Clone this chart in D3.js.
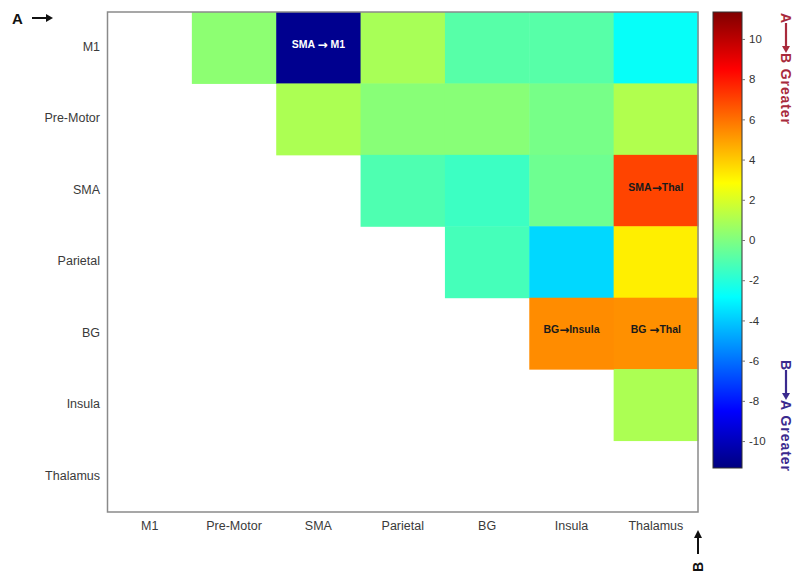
<!DOCTYPE html>
<html>
<head>
<meta charset="utf-8">
<script src="https://cdn.jsdelivr.net/npm/d3@7"></script>
<style>
  html, body { margin: 0; padding: 0; background: #fff; }
  svg { display: block; font-family: "Liberation Sans", Arial, Helvetica, sans-serif; }
</style>
</head>
<body>
<svg id="chart" width="804" height="578"></svg>
<script>
// Brain regions, used for both rows (A) and columns (B)
const regions = ["M1", "Pre-Motor", "SMA", "Parietal", "BG", "Insula", "Thalamus"];

// T-values for A -> B comparisons, one array per row region (null = not tested)
const rowM1       = [null, 0.3, -11.0, 0.9, -0.9, -0.9, -2.7];
const rowPreMotor = [null, null, 1.0, 0.2, 0.2, -0.2, 1.1];
const rowSMA      = [null, null, null, -1.1, -1.5, -0.4, 7.0];
const rowParietal = [null, null, null, null, -1.3, -3.7, 3.2];
const rowBG       = [null, null, null, null, null, 5.4, 5.3];
const rowInsula   = [null, null, null, null, null, null, 1.0];
const rowThalamus = [null, null, null, null, null, null, null];
const tValues = [rowM1, rowPreMotor, rowSMA, rowParietal, rowBG, rowInsula, rowThalamus];

// Significant connections that carry a label (source, arrow, target)
const sigRows    = ["M1", "SMA", "BG", "BG"];
const sigCols    = ["SMA", "Thalamus", "Insula", "Thalamus"];
const sigSources = ["SMA ", "SMA", "BG", "BG "];
const sigTargets = [" M1", "Thal", "Insula", "Thal"];

// Colour bar
const colorDomain = [-11.34, 11.34];
const colorTicks = [-10, -8, -6, -4, -2, 0, 2, 4, 6, 8, 10];

// MATLAB-style jet colormap
function jet(t) {
  const c = v => Math.max(0, Math.min(1, v));
  const r = c(1.5 - Math.abs(4 * t - 3));
  const g = c(1.5 - Math.abs(4 * t - 2));
  const b = c(1.5 - Math.abs(4 * t - 1));
  return d3.rgb(r * 255, g * 255, b * 255).formatHex();
}
const color = d3.scaleSequential(jet).domain(colorDomain);

const svg = d3.select("#chart");

const grid = { left: 107.5, top: 12, right: 698, bottom: 512 };
const x = d3.scaleBand().domain(regions).range([grid.left, grid.right]).padding(0);
const y = d3.scaleBand().domain(regions).range([grid.top, grid.bottom]).padding(0);

// Cells
const cells = [];
tValues.forEach((row, i) => row.forEach((v, j) => {
  if (v !== null) cells.push({ a: regions[i], b: regions[j], v });
}));

svg.append("g").selectAll("rect")
  .data(cells)
  .join("rect")
  .attr("x", d => x(d.b))
  .attr("y", d => y(d.a))
  .attr("width", x.bandwidth() + 0.5)
  .attr("height", y.bandwidth() + 0.5)
  .attr("fill", d => color(d.v));

// Plot frame
svg.append("rect")
  .attr("x", grid.left).attr("y", grid.top)
  .attr("width", grid.right - grid.left).attr("height", grid.bottom - grid.top)
  .attr("fill", "none").attr("stroke", "#8a8a8a").attr("stroke-width", 1.5);

// Labels on significant cells
const valueOf = (a, b) => tValues[regions.indexOf(a)][regions.indexOf(b)];
const sig = sigRows.map((a, k) => ({
  a, b: sigCols[k], src: sigSources[k], dst: sigTargets[k], v: valueOf(a, sigCols[k])
}));
const sigText = svg.append("g").selectAll("text")
  .data(sig)
  .join("text")
  .attr("x", d => x(d.b) + x.bandwidth() / 2)
  .attr("y", d => y(d.a) + y.bandwidth() / 2 - 3)
  .attr("text-anchor", "middle")
  .attr("dominant-baseline", "middle")
  .attr("font-size", 10.5)
  .attr("font-weight", "bold")
  .attr("fill", d => d.v < -5 ? "#ffffff" : "#1a1a1a");
sigText.append("tspan").text(d => d.src);
sigText.append("tspan")
  .attr("font-family", "DejaVu Sans, sans-serif")
  .attr("font-size", 12)
  .text("→");
sigText.append("tspan").text(d => d.dst);

// Row labels (A)
svg.append("g").selectAll("text")
  .data(regions)
  .join("text")
  .attr("x", 100)
  .attr("y", d => y(d) + y.bandwidth() / 2)
  .attr("text-anchor", "end")
  .attr("dominant-baseline", "middle")
  .attr("font-size", 12.5)
  .attr("fill", "#3a3a3a")
  .text(d => d);

// Column labels (B)
svg.append("g").selectAll("text")
  .data(regions)
  .join("text")
  .attr("x", d => x(d) + x.bandwidth() / 2)
  .attr("y", 527)
  .attr("text-anchor", "middle")
  .attr("dominant-baseline", "middle")
  .attr("font-size", 12.5)
  .attr("fill", "#3a3a3a")
  .text(d => d);

// Direction markers: A along rows, B along columns
svg.append("text")
  .attr("x", 12).attr("y", 24)
  .attr("font-size", 15).attr("font-weight", "bold").attr("fill", "#111")
  .text("A");
svg.append("line")
  .attr("x1", 32).attr("y1", 18).attr("x2", 48).attr("y2", 18)
  .attr("stroke", "#111").attr("stroke-width", 2);
svg.append("path")
  .attr("d", "M46,14 L53,18 L46,22 Z").attr("fill", "#111");

svg.append("line")
  .attr("x1", 698).attr("y1", 554).attr("x2", 698).attr("y2", 536)
  .attr("stroke", "#111").attr("stroke-width", 2);
svg.append("path")
  .attr("d", "M694,538 L698,530 L702,538 Z").attr("fill", "#111");
svg.append("text")
  .attr("transform", "translate(703,567) rotate(-90)")
  .attr("text-anchor", "middle")
  .attr("font-size", 14).attr("font-weight", "bold").attr("fill", "#111")
  .text("B");

// Colour bar
const cb = { x: 713, w: 29, top: 12, bottom: 468 };
const cy = d3.scaleLinear().domain(colorDomain).range([cb.bottom, cb.top]);

const defs = svg.append("defs");
const grad = defs.append("linearGradient")
  .attr("id", "jetGrad").attr("x1", 0).attr("y1", 1).attr("x2", 0).attr("y2", 0);
d3.range(0, 1.0001, 0.0625).forEach(t => {
  grad.append("stop").attr("offset", t).attr("stop-color", jet(t));
});

svg.append("rect")
  .attr("x", cb.x).attr("y", cb.top)
  .attr("width", cb.w).attr("height", cb.bottom - cb.top)
  .attr("fill", "url(#jetGrad)")
  .attr("stroke", "#333").attr("stroke-width", 1);

const cAxis = d3.axisRight(cy).tickValues(colorTicks).tickSize(3).tickPadding(4)
  .tickFormat(d3.format("d"));
const cAxisG = svg.append("g")
  .attr("transform", `translate(${cb.x + cb.w},0)`)
  .call(cAxis);
cAxisG.select(".domain").remove();
cAxisG.selectAll(".tick line").attr("stroke", "#777");
cAxisG.selectAll(".tick text")
  .attr("font-size", 11.5).attr("fill", "#333")
  .attr("font-family", "Liberation Sans, Arial, sans-serif")
  .text(d => d < 0 ? "-" + Math.abs(d) : d);

// Direction legend beside the colour bar
function sideLegend(yStart, first, second, fill) {
  const g = svg.append("g").attr("transform", `translate(781,${yStart}) rotate(90)`).attr("fill", fill);
  g.append("text").attr("x", 0).attr("y", 0).attr("font-size", 14).attr("font-weight", "bold").text(first);
  g.append("line").attr("x1", 10).attr("y1", -5).attr("x2", 36).attr("y2", -5)
    .attr("stroke", fill).attr("stroke-width", 2.2);
  g.append("path").attr("d", "M33,-9 L40,-5 L33,-1 Z").attr("fill", fill);
  g.append("text").attr("x", 40).attr("y", 0).attr("font-size", 14).attr("font-weight", "bold")
    .attr("textLength", 71).text(second);
}
sideLegend(13, "A", "B Greater", "#a82a3c");
sideLegend(360, "B", "A Greater", "#3a2a8e");
</script>
</body>
</html>
